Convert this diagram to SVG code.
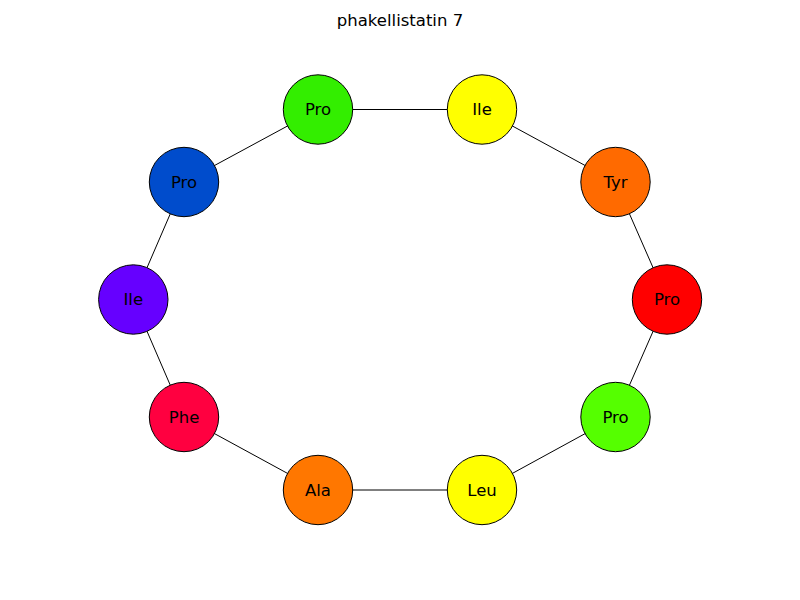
<svg xmlns="http://www.w3.org/2000/svg" width="800" height="600" viewBox="0 0 800 600">
<style>
.n{stroke:#000;stroke-width:1}
.t{font-family:"DejaVu Sans",sans-serif;font-size:16.5px;text-anchor:middle;dominant-baseline:central;fill:#000}
.e{stroke:#000;stroke-width:1}
</style>
<rect width="800" height="600" fill="#fff"/>
<text x="400" y="20" class="t">phakellistatin 7</text>
<g id="edges">
<line class="e" x1="318" y1="109.5" x2="482" y2="109.5"/>
<line class="e" x1="482" y1="109.5" x2="615.5" y2="182"/>
<line class="e" x1="615.5" y1="182" x2="667" y2="299.5"/>
<line class="e" x1="667" y1="299.5" x2="615.5" y2="417"/>
<line class="e" x1="615.5" y1="417" x2="482" y2="490"/>
<line class="e" x1="482" y1="490" x2="318" y2="490"/>
<line class="e" x1="318" y1="490" x2="184" y2="417"/>
<line class="e" x1="184" y1="417" x2="133.3" y2="299.5"/>
<line class="e" x1="133.3" y1="299.5" x2="184" y2="182"/>
<line class="e" x1="184" y1="182" x2="318" y2="109.5"/>
</g>
<g id="n0"><circle class="n" cx="318" cy="109.5" r="34.7" fill="#33ee00"/><text class="t" x="318" y="109.5">Pro</text></g>
<g id="n1"><circle class="n" cx="482" cy="109.5" r="34.7" fill="#ffff00"/><text class="t" x="482" y="109.5">Ile</text></g>
<g id="n2"><circle class="n" cx="615.5" cy="182" r="34.7" fill="#ff6a00"/><text class="t" x="615.5" y="182">Tyr</text></g>
<g id="n3"><circle class="n" cx="667" cy="299.5" r="34.7" fill="#ff0000"/><text class="t" x="667" y="299.5">Pro</text></g>
<g id="n4"><circle class="n" cx="615.5" cy="417" r="34.7" fill="#55ff00"/><text class="t" x="615.5" y="417">Pro</text></g>
<g id="n5"><circle class="n" cx="482" cy="490" r="34.7" fill="#ffff00"/><text class="t" x="482" y="490">Leu</text></g>
<g id="n6"><circle class="n" cx="318" cy="490" r="34.7" fill="#ff7700"/><text class="t" x="318" y="490">Ala</text></g>
<g id="n7"><circle class="n" cx="184" cy="417" r="34.7" fill="#ff0040"/><text class="t" x="184" y="417">Phe</text></g>
<g id="n8"><circle class="n" cx="133.3" cy="299.5" r="34.7" fill="#6600ff"/><text class="t" x="133.3" y="299.5">Ile</text></g>
<g id="n9"><circle class="n" cx="184" cy="182" r="34.7" fill="#004ccc"/><text class="t" x="184" y="182">Pro</text></g>
</svg>
